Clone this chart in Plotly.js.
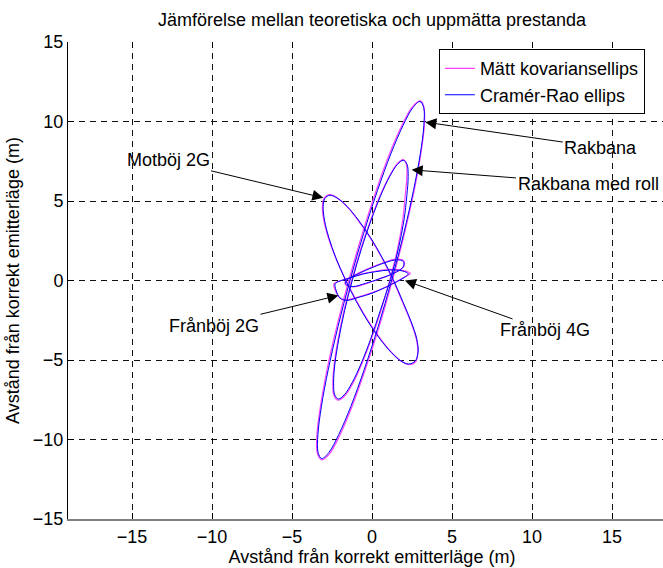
<!DOCTYPE html>
<html>
<head>
<meta charset="utf-8">
<script src="https://cdn.plot.ly/plotly-3.0.1.min.js"></script>
<style>
html,body{margin:0;padding:0;overflow:hidden;background:#fff;}
#chart{width:680px;height:568px;}
</style>
</head>
<body>
<div id="chart"></div>
<script>
// ---- Data (metres) ----
const seriesNames = ["Mätt kovariansellips", "Cramér-Rao ellips"];
const xTicks = [-15, -10, -5, 0, 5, 10, 15];
const yTicks = [-15, -10, -5, 0, 5, 10, 15];

// Rakbana
const rakbanaCrX = [3.00,3.23,3.24,3.02,2.59,1.98,1.23,0.39,-0.48,-1.32,-2.08,-2.70,-3.14,-3.37,-3.38,-3.16,-2.73,-2.12,-1.37,-0.53,0.34,1.18,1.94,2.56,3.00];
const rakbanaCrY = [11.26,10.88,9.75,7.97,5.65,2.94,0.03,-2.88,-5.58,-7.91,-9.69,-10.82,-11.20,-10.82,-9.69,-7.91,-5.58,-2.88,0.03,2.94,5.65,7.97,9.75,10.88,11.26];
const rakbanaMX = [3.02,3.25,3.27,3.05,2.63,2.02,1.28,0.45,-0.42,-1.26,-2.02,-2.66,-3.14,-3.42,-3.44,-3.22,-2.80,-2.19,-1.44,-0.60,0.27,1.11,1.88,2.52,3.02];
const rakbanaMY = [11.30,10.90,9.74,7.95,5.63,2.92,0.02,-2.90,-5.60,-7.95,-9.75,-10.90,-11.28,-10.85,-9.70,-7.90,-5.55,-2.85,0.05,2.96,5.68,8.00,9.78,10.92,11.30];

// Rakbana med roll
const rollCrX = [1.96,2.19,2.26,2.18,2.00,1.65,1.15,0.52,-0.09,-0.69,-1.25,-1.73,-2.10,-2.33,-2.40,-2.32,-2.08,-1.71,-1.22,-0.66,-0.05,0.55,1.11,1.59,1.96];
const rollCrY = [7.56,7.30,6.55,5.36,3.81,2.00,0.06,-1.89,-3.70,-5.25,-6.44,-7.19,-7.45,-7.19,-6.44,-5.25,-3.70,-1.89,0.06,2.00,3.81,5.36,6.55,7.30,7.56];
const rollMX = [1.95,2.15,2.18,2.08,1.92,1.60,1.12,0.56,-0.05,-0.64,-1.20,-1.70,-2.12,-2.38,-2.45,-2.36,-2.12,-1.75,-1.26,-0.70,-0.08,0.52,1.10,1.57,1.95];
const rollMY = [7.60,7.33,6.55,5.36,3.81,2.00,0.06,-1.89,-3.70,-5.25,-6.48,-7.25,-7.52,-7.22,-6.45,-5.25,-3.70,-1.89,0.06,2.00,3.81,5.38,6.58,7.33,7.60];

// Motböj 2G
const motbojCrX = [-2.63,-2.16,-1.55,-0.85,-0.10,0.64,1.33,1.92,2.45,2.80,2.88,2.70,2.29,1.82,1.21,0.51,-0.24,-0.98,-1.67,-2.26,-2.70,-2.97,-3.05,-2.94,-2.63];
const motbojCrY = [5.36,5.17,4.65,3.80,2.71,1.43,0.06,-1.32,-2.60,-3.69,-4.50,-5.07,-5.25,-5.07,-4.53,-3.69,-2.60,-1.32,0.06,1.43,2.71,3.80,4.65,5.17,5.36];
const motbojMX = [-2.66,-2.18,-1.57,-0.88,-0.12,0.62,1.30,1.90,2.43,2.78,2.86,2.72,2.32,1.86,1.25,0.55,-0.20,-0.95,-1.66,-2.28,-2.74,-3.02,-3.10,-2.98,-2.66];
const motbojMY = [5.40,5.20,4.66,3.80,2.70,1.42,0.05,-1.34,-2.62,-3.72,-4.55,-5.12,-5.30,-5.10,-4.55,-3.70,-2.60,-1.30,0.08,1.45,2.72,3.82,4.68,5.20,5.40];

// Frånböj 2G
const franboj2CrX = [2.27,1.90,1.10,0.20,-0.60,-1.40,-1.90,-2.30,-2.25,-2.00,-1.60,-0.80,0.00,0.80,1.60,2.10,2.27];
const franboj2CrY = [0.42,0.60,0.66,0.55,0.40,0.15,0.00,-0.20,-0.60,-1.10,-1.25,-1.05,-0.80,-0.45,-0.05,0.25,0.42];
const franboj2MX = [2.40,1.95,1.12,0.22,-0.60,-1.42,-1.95,-2.38,-2.30,-2.02,-1.62,-0.82,0.02,0.84,1.66,2.18,2.40];
const franboj2MY = [0.45,0.62,0.70,0.58,0.42,0.16,0.00,-0.22,-0.62,-1.08,-1.22,-1.02,-0.76,-0.42,0.00,0.30,0.45];

// Frånböj 4G
const franboj4CrX = [-1.60,-0.80,0.10,0.90,1.54,1.96,1.95,1.35,0.50,-0.40,-1.20,-1.65,-1.60];
const franboj4CrY = [0.00,0.45,0.85,1.15,1.30,1.20,0.85,0.45,0.12,-0.18,-0.38,-0.22,0.00];
const franboj4MX = [-1.62,-0.82,0.08,0.88,1.52,1.98,1.98,1.38,0.52,-0.38,-1.20,-1.68,-1.62];
const franboj4MY = [0.02,0.48,0.88,1.18,1.34,1.24,0.88,0.46,0.12,-0.20,-0.40,-0.24,0.02];

// Annotation labels: text, arrow tip (data), text centre (data)
const annText = ["Rakbana", "Rakbana med roll", "Motböj 2G", "Frånböj 2G", "Frånböj 4G"];
const annTipX = [3.33, 2.48, -3.04, -2.10, 2.06];
const annTipY = [9.96, 6.96, 5.20, -0.94, 0.00];
const annTextX = [14.3, 13.5, -12.75, -9.875, 10.8];
const annTextY = [8.36, 6.1, 7.55, -2.83, -3.14];

// ---- Build traces ----
const FONT = "Liberation Sans, Arial, Helvetica, sans-serif";
const pink = "#ff40ff", blue = "#0000ff";
const measured = [[rakbanaMX, rakbanaMY],[rollMX, rollMY],[motbojMX, motbojMY],[franboj2MX, franboj2MY],[franboj4MX, franboj4MY]];
const crb = [[rakbanaCrX, rakbanaCrY],[rollCrX, rollCrY],[motbojCrX, motbojCrY],[franboj2CrX, franboj2CrY],[franboj4CrX, franboj4CrY]];
const traces = [];
measured.forEach((d, i) => traces.push({
  x: d[0], y: d[1], type: "scatter", mode: "lines",
  line: {color: pink, width: 1.2, shape: "spline", smoothing: 1},
  name: seriesNames[0], showlegend: i === 0, hoverinfo: "skip"
}));
crb.forEach((d, i) => traces.push({
  x: d[0], y: d[1], type: "scatter", mode: "lines",
  line: {color: blue, width: 1, shape: "spline", smoothing: 1},
  name: seriesNames[1], showlegend: i === 0, hoverinfo: "skip"
}));
traces.push({x: [], y: [], xaxis: "x2", type: "scatter", mode: "lines", showlegend: false});

const annotations = annText.map((t, i) => ({
  text: t, x: annTipX[i], y: annTipY[i], xref: "x", yref: "y",
  ax: annTextX[i], ay: annTextY[i], axref: "x", ayref: "y",
  showarrow: true, arrowhead: 2, arrowsize: 2.2, arrowwidth: 1, arrowcolor: "#000",
  font: {family: FONT, size: 18, color: "#000"}, bgcolor: "rgba(0,0,0,0)"
}));

const axisCommon = {
  ticks: "inside", ticklen: 6, tickwidth: 1, tickcolor: "#000",
  showline: true, linecolor: "#000", linewidth: 1,
  showgrid: true, gridcolor: "#111", gridwidth: 1, griddash: "6px,5px",
  zeroline: false, tickfont: {family: FONT, size: 18, color: "#000"},
  tickmode: "array", fixedrange: true
};

const layout = {
  width: 680, height: 568,
  margin: {l: 68, r: 4, t: 42, b: 49, pad: 0},
  paper_bgcolor: "#fff", plot_bgcolor: "#fff",
  font: {family: FONT, size: 18, color: "#000"},
  title: {text: "Jämförelse mellan teoretiska och uppmätta prestanda",
    font: {family: FONT, size: 18, color: "#000"},
    x: 0.5, xref: "paper", xanchor: "center", y: 1 - 20/568, yref: "container", yanchor: "middle"},
  xaxis: Object.assign({}, axisCommon, {range: [-19, 19], tickvals: xTicks,
    linecolor: "#808080", linewidth: 2,
    title: {text: "Avstånd från korrekt emitterläge (m)", font: {family: FONT, size: 18}, standoff: 5}}),
  xaxis2: {overlaying: "x", matches: "x", side: "top", anchor: "y", range: [-19, 19],
    tickmode: "array", tickvals: xTicks, ticks: "inside", ticklen: 6, tickcolor: "#000",
    showticklabels: false, showgrid: false, showline: false, zeroline: false, fixedrange: true},
  yaxis: Object.assign({}, axisCommon, {range: [-15, 15], tickvals: yTicks,
    title: {text: "Avstånd från korrekt emitterläge (m)", font: {family: FONT, size: 18}, standoff: 8}}),
  legend: {x: 0.61, y: 0.985, xanchor: "left", yanchor: "top", xref: "paper", yref: "paper",
    bgcolor: "#fff", bordercolor: "#000", borderwidth: 1,
    font: {family: FONT, size: 18, color: "#000"}, tracegroupgap: 0},
  annotations: annotations,
  showlegend: true
};

Plotly.newPlot("chart", traces, layout, {staticPlot: true, displayModeBar: false});
</script>
</body>
</html>
